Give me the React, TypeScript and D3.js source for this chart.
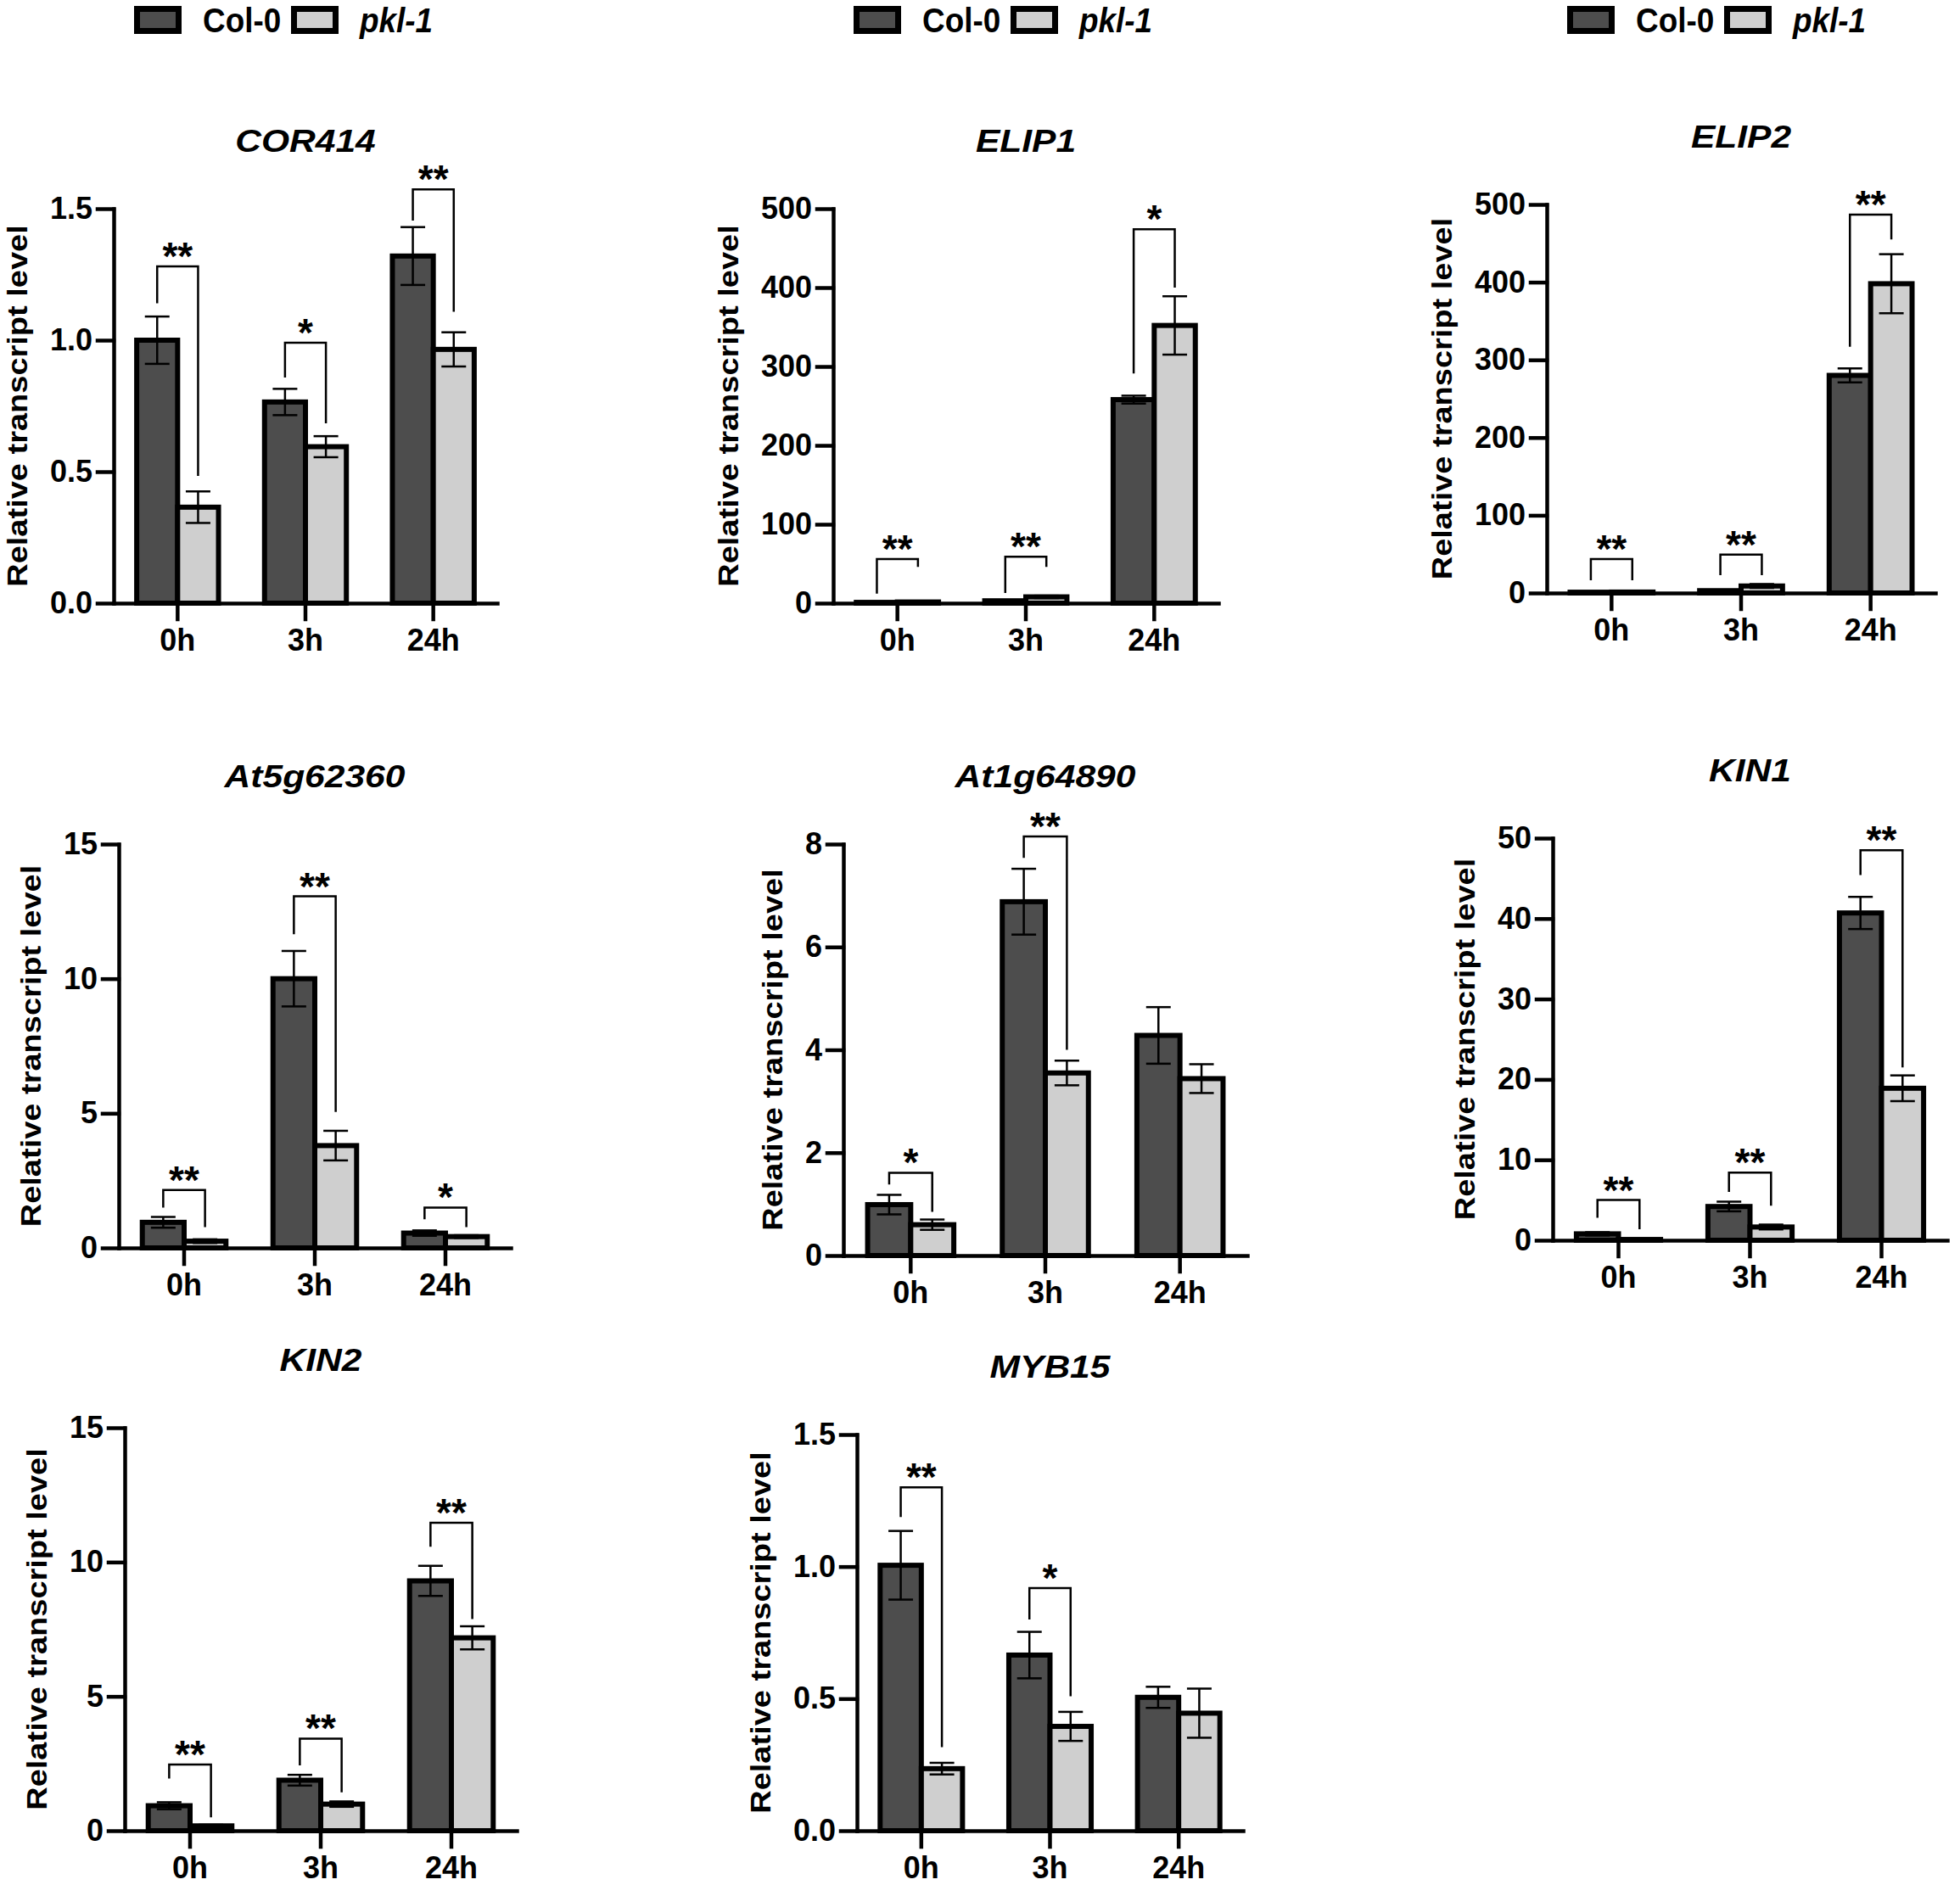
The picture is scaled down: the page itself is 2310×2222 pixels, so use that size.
import { useEffect, useRef } from "react";
import * as d3 from "d3";

const genes = ["COR414", "ELIP1", "ELIP2", "At5g62360", "At1g64890", "KIN1", "KIN2", "MYB15"];
const times = ["0h", "3h", "24h"];
const seriesNames = ["Col-0", "pkl-1"];
const yMax = [1.5, 500, 500, 15, 8, 50, 15, 1.5];
const yStep = [0.5, 100, 100, 5, 2, 10, 5, 0.5];

// mean and SE per gene, per time point
const col0Mean = [
  [1.0, 0.765, 1.32],
  [1, 3, 258],
  [1, 3, 280],
  [0.95, 10.0, 0.55],
  [0.99, 6.88, 4.28],
  [0.8, 4.2, 40.7],
  [0.93, 1.88, 9.3],
  [1.005, 0.665, 0.505],
];
const col0Err = [
  [0.09, 0.05, 0.11],
  [0.3, 0.6, 5],
  [0.3, 0.6, 9],
  [0.2, 1.03, 0.1],
  [0.19, 0.64, 0.55],
  [0.2, 0.6, 2.0],
  [0.13, 0.2, 0.56],
  [0.13, 0.088, 0.04],
];
const pklMean = [
  [0.365, 0.595, 0.965],
  [1.5, 8, 352],
  [1.2, 9, 398],
  [0.25, 3.8, 0.42],
  [0.6, 3.55, 3.44],
  [0.1, 1.65, 18.9],
  [0.18, 0.99, 7.18],
  [0.235, 0.395, 0.445],
];
const pklErr = [
  [0.06, 0.04, 0.065],
  [0.4, 1.5, 37],
  [0.3, 2.5, 38],
  [0.07, 0.55, 0.05],
  [0.1, 0.24, 0.28],
  [0.05, 0.3, 1.6],
  [0.04, 0.1, 0.43],
  [0.022, 0.055, 0.093],
];

// significance brackets: [time index, bar height, left leg end, right leg end, label]
const brackets: [number, number, number, number, string][][] = [
  [[0, 1.281, 1.14, 0.484, "**"], [1, 0.99, 0.858, 0.684, "*"], [2, 1.573, 1.455, 1.108, "**"]],
  [[0, 56, 12, 46, "**"], [1, 59, 13, 46, "**"], [2, 474, 291, 400, "*"]],
  [[0, 43.7, 16.4, 16.4, "**"], [1, 49.5, 23, 23, "**"], [2, 487, 317, 455, "**"]],
  [[0, 2.15, 1.5, 0.77, "**"], [1, 13.06, 11.65, 5.05, "**"], [2, 1.5, 1.06, 0.77, "*"]],
  [[0, 1.61, 1.38, 0.85, "*"], [1, 8.15, 7.73, 4.0, "**"]],
  [[0, 5.0, 2.8, 1.36, "**"], [1, 8.4, 6.0, 4.3, "**"], [2, 48.5, 45.4, 21.5, "**"]],
  [[0, 2.46, 1.94, 0.5, "**"], [1, 3.43, 2.43, 1.43, "**"], [2, 11.46, 10.57, 7.88, "**"]],
  [[0, 1.3, 1.188, 0.316, "**"], [1, 0.919, 0.8, 0.509, "*"]],
];

// panel frames: [y-axis x, x-axis end, top of y-axis, zero line]
const frames = [
  [134, 586, 246, 711],
  [982, 1436, 246, 711],
  [1823, 2281, 241, 699],
  [140, 602, 995, 1471],
  [994, 1470, 995, 1480],
  [1830, 2295, 988, 1462],
  [147, 609, 1683, 2158],
  [1010, 1465, 1691, 2158],
];

const W = 2310;
const H = 2222;
const FONT = "'Liberation Sans', Arial, Helvetica, sans-serif";
const fills = ["#4d4d4d", "#cfcfcf"];

export default function App() {
  const ref = useRef<SVGSVGElement | null>(null);

  useEffect(() => {
    document.body.style.margin = "0";
    if (!ref.current) return;
    const svg = d3.select(ref.current);
    svg.selectAll("*").remove();
    svg.append("rect").attr("width", W).attr("height", H).attr("fill", "#fff");

    genes.forEach((gene, gi) => {
      const [ax, ex, top, zero] = frames[gi];
      const x = d3.scaleBand<string>().domain(times).range([ax, ex]);
      const y = d3.scaleLinear().domain([0, yMax[gi]]).range([zero, top]);
      const barW = x.bandwidth() * 0.32;
      const g = svg.append("g");
      const means = [col0Mean[gi], pklMean[gi]];
      const errs = [col0Err[gi], pklErr[gi]];

      // bars
      times.forEach((t, ti) => {
        const cx = (x(t) ?? 0) + x.bandwidth() / 2;
        [0, 1].forEach((s) => {
          const m = means[s][ti];
          g.append("rect")
            .attr("x", s === 0 ? cx - barW : cx)
            .attr("y", y(m))
            .attr("width", barW)
            .attr("height", zero - y(m))
            .attr("fill", fills[s])
            .attr("stroke", "#000")
            .attr("stroke-width", 6);
        });
      });

      // error bars
      times.forEach((t, ti) => {
        const cx = (x(t) ?? 0) + x.bandwidth() / 2;
        [0, 1].forEach((s) => {
          const m = means[s][ti];
          const e = errs[s][ti];
          const bx = s === 0 ? cx - barW / 2 : cx + barW / 2;
          const lo = y(Math.max(0, m - e));
          const hi = y(m + e);
          const eg = g.append("g").attr("stroke", "#000").attr("stroke-width", 2.5);
          eg.append("line").attr("x1", bx).attr("x2", bx).attr("y1", lo).attr("y2", hi);
          eg.append("line").attr("x1", bx - 14.5).attr("x2", bx + 14.5).attr("y1", hi).attr("y2", hi);
          eg.append("line").attr("x1", bx - 14.5).attr("x2", bx + 14.5).attr("y1", lo).attr("y2", lo);
        });
      });

      // axes
      const ticks = d3.range(0, yMax[gi] + yStep[gi] / 2, yStep[gi]);
      const fmt = yStep[gi] < 1 ? d3.format(".1f") : d3.format("d");
      const ya = g.append("g")
        .attr("transform", `translate(${ax},0)`)
        .call(d3.axisLeft(y).tickValues(ticks).tickFormat((d) => fmt(d as number)).tickSize(19).tickPadding(6).tickSizeOuter(0));
      const xa = g.append("g")
        .attr("transform", `translate(0,${zero})`)
        .call(d3.axisBottom(x).tickSize(19).tickPadding(11).tickSizeOuter(0));
      [ya, xa].forEach((a) => {
        a.selectAll("path, line").attr("stroke", "#000").attr("stroke-width", 4.5).attr("stroke-linecap", "square");
        a.selectAll("text")
          .attr("fill", "#000")
          .attr("font-family", FONT)
          .attr("font-weight", "bold")
          .attr("font-size", 36);
      });

      // y-axis title
      const bb = (ya.node() as SVGGElement).getBBox();
      const lx = ax + bb.x - 20 - 0.21 * 38 * 0.85;
      const ly = (top + zero) / 2;
      g.append("text")
        .attr("transform", `translate(${lx},${ly}) rotate(-90) scale(1,0.85)`)
        .attr("text-anchor", "middle")
        .attr("font-family", FONT)
        .attr("font-weight", "bold")
        .attr("font-size", 38)
        .text("Relative transcript level");

      // gene title
      g.append("text")
        .attr("transform", `translate(${(ax + ex) / 2},${top - 67}) scale(1.15,1)`)
        .attr("text-anchor", "middle")
        .attr("font-family", FONT)
        .attr("font-weight", "bold")
        .attr("font-style", "italic")
        .attr("font-size", 37)
        .text(gene);

      // significance brackets
      brackets[gi].forEach(([ti, level, leftEnd, rightEnd, label]) => {
        const cx = (x(times[ti]) ?? 0) + x.bandwidth() / 2;
        const xl = cx - barW / 2;
        const xr = cx + barW / 2;
        g.append("path")
          .attr("d", `M${xl},${y(leftEnd)}V${y(level)}H${xr}V${y(rightEnd)}`)
          .attr("fill", "none")
          .attr("stroke", "#000")
          .attr("stroke-width", 2.5);
        g.append("text")
          .attr("x", (xl + xr) / 2)
          .attr("y", y(level) + 4)
          .attr("text-anchor", "middle")
          .attr("font-family", FONT)
          .attr("font-weight", "bold")
          .attr("font-size", 46)
          .text(label);
      });

      // legend (top row only)
      if (gi < 3) {
        const lg = g.append("g").attr("transform", `translate(${ax},0)`);
        seriesNames.forEach((name, s) => {
          const ox = s === 0 ? 27.5 : 212.5;
          lg.append("rect")
            .attr("x", ox)
            .attr("y", 10.5)
            .attr("width", 49)
            .attr("height", 26)
            .attr("fill", fills[s])
            .attr("stroke", "#000")
            .attr("stroke-width", 7);
          lg.append("text")
            .attr("transform", `translate(${ox + 77.5},37.5) scale(0.9,1)`)
            .attr("font-family", FONT)
            .attr("font-weight", "bold")
            .attr("font-style", s === 1 ? "italic" : "normal")
            .attr("font-size", 41)
            .text(name);
        });
      }
    });
  }, []);

  return <svg ref={ref} width={W} height={H} style={{ display: "block" }} />;
}
